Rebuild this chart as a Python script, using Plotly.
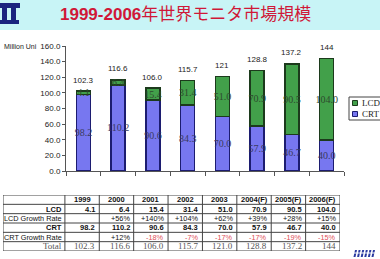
import plotly.graph_objects as go

years = ["1999", "2000", "2001", "2002", "2003", "2004(F)", "2005(F)", "2006(F)"]
lcd = [4.1, 6.4, 15.4, 31.4, 51.0, 70.9, 90.5, 104.0]
crt = [98.2, 110.2, 90.6, 84.3, 70.0, 57.9, 46.7, 40.0]
totals_label = ["102.3", "116.6", "106.0", "115.7", "121", "128.8", "137.2", "144"]
totals = [102.3, 116.6, 106.0, 115.7, 121.0, 128.8, 137.2, 144.0]
lcd_growth = ["", "+56%", "+140%", "+104%", "+62%", "+39%", "+28%", "+15%"]
crt_growth = ["", "+12%", "-18%", "-7%", "-17%", "-17%", "-19%", "-15%"]
total_row = ["102.3", "116.6", "106.0", "115.7", "121.0", "128.8", "137.2", "144"]
row_labels = ["", "LCD", "LCD Growth Rate", "CRT", "CRT Growth Rate", "Total"]
yticks = [0, 20, 40, 60, 80, 100, 120, 140, 160]

W, H = 380, 259
def px(x): return x / W
def py(y): return 1 - y / H

CRT_FILL, CRT_LINE = "#7777f0", "#1c1c70"
LCD_FILL, LCD_LINE = "#42a04a", "#1c3a1c"

fig = go.Figure()
fig.add_trace(go.Bar(
    x=years, y=crt, name="CRT", width=0.4,
    marker=dict(color=CRT_FILL, line=dict(color=CRT_LINE, width=1.5)),
    text=[f"{v:.1f}" for v in crt], textposition="inside", insidetextanchor="middle", textangle=0,
    textfont=dict(family="Liberation Serif", size=10, color="#3a3a60"),
    xaxis="x", yaxis="y"))
fig.add_trace(go.Bar(
    x=years, y=lcd, name="LCD", width=0.4,
    marker=dict(color=LCD_FILL, line=dict(color=LCD_LINE, width=1.5)),
    text=[f"{v:.1f}" for v in lcd], textposition="inside", insidetextanchor="middle", textangle=0,
    textfont=dict(family="Liberation Serif", size=10, color="#2e4a2e"),
    xaxis="x", yaxis="y"))

annotations = []
for i, (t, lab) in enumerate(zip(totals, totals_label)):
    annotations.append(dict(x=i, y=t, xref="x", yref="y", text=lab, showarrow=False,
                            yshift=11, font=dict(family="Arial", size=8, color="#222")))

# Title
annotations.append(dict(x=px(185), y=py(14), xref="paper", yref="paper", showarrow=False,
    yanchor="middle", yshift=2,
    text="<b>1999-2006</b><span style='font-family:Noto Sans CJK JP'>年世界モニタ市場規模</span>",
    font=dict(family="Arial", size=17, color="#d01838")))
annotations.append(dict(x=px(2), y=py(47), xref="paper", yref="paper", showarrow=False,
    xanchor="left", yanchor="middle", text="Million Uni",
    font=dict(family="Arial", size=7, color="#222")))

# Manual legend
shapes = []
shapes.append(dict(type="rect", xref="paper", yref="paper", x0=px(349), x1=px(384), y0=py(120), y1=py(97),
                   fillcolor="white", line=dict(color="#444", width=1)))
for i, (nm, fc, lc) in enumerate([("LCD", LCD_FILL, LCD_LINE), ("CRT", CRT_FILL, CRT_LINE)]):
    yc = 103 + i * 11
    shapes.append(dict(type="rect", xref="paper", yref="paper", x0=px(352.5), x1=px(357.5),
                       y0=py(yc + 2.5), y1=py(yc - 2.5), fillcolor=fc, line=dict(color=lc, width=1)))
    annotations.append(dict(x=px(359.5), y=py(yc), xref="paper", yref="paper", showarrow=False,
                            xanchor="left", yanchor="middle", text=nm,
                            font=dict(family="Liberation Serif", size=9, color="#222")))

# Table on second axis pair
edges = [0, 1.8] + [1.8 + i + 1 for i in range(8)]
table_rows = [
    (years, dict(family="Arial", size=7.5, color="#111"), True),
    ([f"{v:.1f}" for v in lcd], dict(family="Arial", size=7.5, color="#111"), True),
    (lcd_growth, dict(family="Arial", size=7.3, color="#111"), False),
    ([f"{v:.1f}" for v in crt], dict(family="Arial", size=7.5, color="#111"), True),
    (crt_growth, dict(family="Arial", size=7.3, color="#111"), False),
    (total_row, dict(family="Liberation Serif", size=9, color="#555"), False),
]
for r, (vals, f, bold) in enumerate(table_rows):
    lab = row_labels[r]
    if lab:
        txt = f"<b>{lab}</b>" if bold else lab
        annotations.append(dict(x=edges[1], y=r + 0.5, xref="x2", yref="y2", text=txt,
                                showarrow=False, xanchor="right", xshift=-1, font=dict(f)))
    for c, v in enumerate(vals):
        ff = dict(f)
        if v.startswith("-"):
            ff["color"] = "#e0505a"
        txt = f"<b>{v}</b>" if bold else v
        if r == 0:
            annotations.append(dict(x=(edges[c + 1] + edges[c + 2]) / 2, y=r + 0.5, xref="x2", yref="y2",
                                    text=txt, showarrow=False, font=ff))
        else:
            annotations.append(dict(x=edges[c + 2], y=r + 0.5, xref="x2", yref="y2", text=txt,
                                    showarrow=False, xanchor="right", xshift=-2, font=ff))

# Title band
shapes.append(dict(type="rect", xref="paper", yref="paper", x0=0, x1=1, y0=py(30), y1=1,
                   fillcolor="#c8f4f6", line=dict(width=0), layer="below"))
# Icon
navy = "#1a237e"
for (x0, y0, x1, y1) in [(0, 3, 20, 8), (2, 8, 7, 21), (11, 8, 16, 21), (0, 20, 19, 24)]:
    shapes.append(dict(type="rect", xref="paper", yref="paper", x0=px(x0), x1=px(x1), y0=py(y1), y1=py(y0),
                       fillcolor=navy, line=dict(width=0)))
# bottom-right logo stripes
for i in range(6):
    x0 = 354 + i * 3.6
    shapes.append(dict(type="path", xref="paper", yref="paper",
                       path=f"M {px(x0+1)},{py(250)} L {px(x0+3)},{py(250)} L {px(x0+1.5)},{py(257)} L {px(x0-0.5)},{py(257)} Z",
                       fillcolor="#2a3aa0", line=dict(width=0)))
shapes.append(dict(type="rect", xref="paper", yref="paper", x0=px(353), x1=px(376), y0=py(253.5), y1=py(252.5),
                   fillcolor="#ffffff", line=dict(width=0)))
# table grid
for e in edges:
    shapes.append(dict(type="line", xref="x2", yref="y2", x0=e, x1=e, y0=0, y1=6,
                       line=dict(color="#444", width=1)))
for r in range(7):
    shapes.append(dict(type="line", xref="x2", yref="y2", x0=0, x1=edges[-1], y0=r, y1=r,
                       line=dict(color="#444", width=1)))

fig.update_layout(
    width=W, height=H, margin=dict(l=0, r=0, t=0, b=0, autoexpand=False),
    paper_bgcolor="white", plot_bgcolor="rgba(0,0,0,0)",
    barmode="stack",
    uniformtext=dict(mode="show", minsize=10),
    showlegend=False,
    xaxis=dict(domain=[px(66), px(344)], type="category", range=[-0.5, 7.5],
               showticklabels=False, ticks="outside", ticklen=4,
               tickson="boundaries", tickcolor="#555", showline=True, linecolor="#555",
               linewidth=1, showgrid=False, zeroline=False),
    yaxis=dict(domain=[py(171), py(46)], range=[0, 160], tickvals=yticks, tickformat=".1f",
               ticks="outside", ticklen=3, tickcolor="#555", showline=True, linecolor="#555",
               linewidth=1, showgrid=False, zeroline=False,
               tickfont=dict(family="Arial", size=8, color="#222")),
    xaxis2=dict(domain=[px(3), px(340)], range=[0, edges[-1]], visible=False, anchor="y2"),
    yaxis2=dict(domain=[py(251), py(195)], range=[6, 0], visible=False, anchor="x2"),
    annotations=annotations, shapes=shapes,
)
fig.write_html("out.html")
